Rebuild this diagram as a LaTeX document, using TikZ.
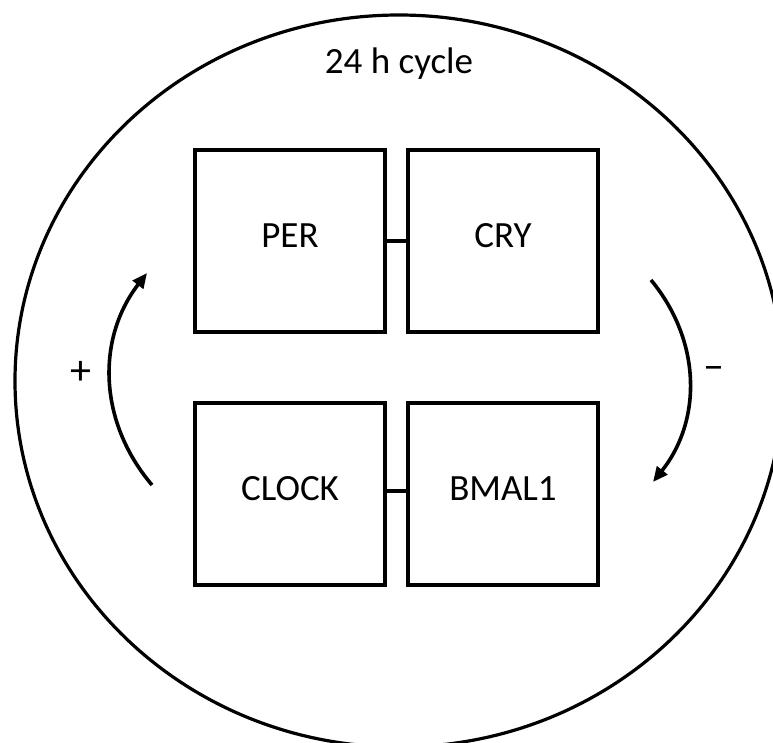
\documentclass[tikz,border=0pt]{standalone}
\usepackage{fontspec}
\setmainfont{Carlito}
\usetikzlibrary{arrows.meta}
\begin{document}
\begin{tikzpicture}[x=1pt,y=-1pt,
  protbox/.style={draw, line width=3.3pt, minimum width=190pt, minimum height=182pt,
    inner sep=0pt, text height=24pt, text depth=12pt, font=\fontsize{37}{44}\selectfont},
  lbl/.style={font=\fontsize{37}{44}\selectfont, inner sep=0pt},
  sign/.style={font=\fontsize{42}{50}\selectfont, inner sep=0pt},
  link/.style={line width=3.3pt},
  cyc/.style={line width=3.6pt, -{Triangle[length=15pt,width=13pt]}}]
\useasboundingbox (0,0) rectangle (773,742);
\fill[white] (0,0) rectangle (773,742);
\draw[line width=3.2pt] (399,381) ellipse [x radius=384, y radius=366];
\node[lbl, anchor=base] (title) at (399,73) {24 h cycle};
\node[protbox] (per) at (290,241) {PER};
\node[protbox] (cry) at (503,241) {CRY};
\node[protbox] (clock) at (290,494) {CLOCK};
\node[protbox] (bmal) at (503,494) {BMAL1};
\draw[link] (per.east) -- (cry.west);
\draw[link] ([yshift=3pt]clock.east) -- ([yshift=3pt]bmal.west);
\coordinate (la) at (152,485);
\coordinate (lb) at (147,273);
\coordinate (ra) at (651,280);
\coordinate (rb) at (653,482);
\draw[cyc] (la) to[bend left=39] (lb);
\draw[cyc] (ra) to[bend left=39] (rb);
\node[sign] (plus) at (81,373) {+};
\node[sign] (minus) at (714,373) {–};
\end{tikzpicture}
\end{document}
